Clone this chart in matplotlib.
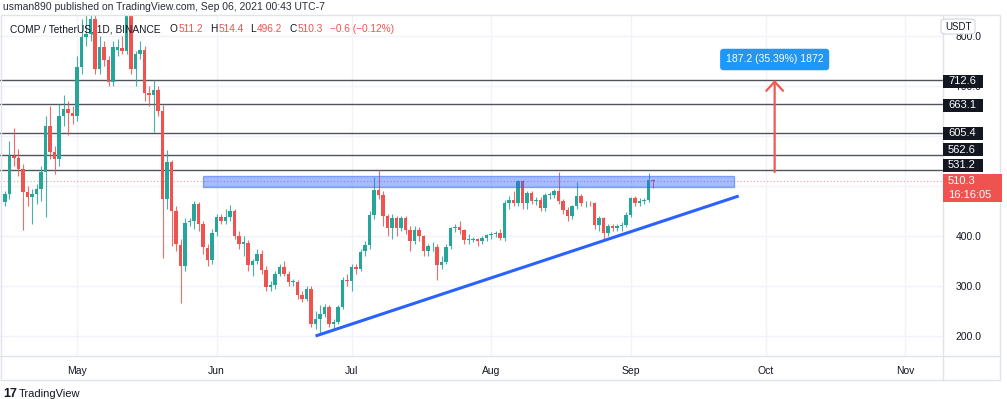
import numpy as np
import pandas as pd
import matplotlib
matplotlib.use("Agg")
import matplotlib.pyplot as plt
import matplotlib.dates as mdates
import matplotlib.transforms as mtransforms
from matplotlib.patches import Rectangle, FancyBboxPatch
from matplotlib.lines import Line2D

plt.rcParams['font.family'] = ['Liberation Sans', 'DejaVu Sans']

# daily COMP / USDT candles, Apr 15 -> Sep 06 2021
first_day = "2021-04-15"
opens = [467, 483, 560, 556, 533, 487, 477, 483, 493, 527,
         620, 567, 553, 640, 655, 647, 641, 738, 799, 805,
         835, 735, 779, 752, 709, 772, 776, 770, 842, 735,
         765, 772, 687, 683, 692, 650, 473, 547, 450, 383,
         340, 427, 430, 463, 423, 377, 353, 407, 437, 430,
         437, 450, 400, 383, 387, 343, 350, 365, 332, 299,
         302, 325, 339, 325, 309, 309, 282, 275, 295, 225,
         235, 245, 259, 225, 229, 259, 312, 310, 339, 335,
         369, 382, 442, 492, 482, 439, 415, 435, 415, 435,
         412, 389, 412, 399, 369, 379, 379, 342, 349, 379,
         415, 418, 412, 392, 392, 393, 389, 395, 402, 403,
         405, 395, 465, 472, 465, 509, 465, 485, 470, 472,
         455, 482, 482, 489, 469, 452, 439, 459, 479, 465,
         466, 465, 422, 435, 405, 419, 416, 419, 422, 442,
         475, 465, 469, 472, 511.2]
highs = [490, 590, 617, 575, 545, 500, 495, 505, 540, 640,
         660, 580, 665, 683, 670, 660, 760, 835, 850, 860,
         860, 800, 790, 760, 790, 795, 800, 875, 872, 770,
         790, 780, 700, 712, 700, 662, 573, 552, 460, 395,
         437, 437, 470, 468, 430, 385, 415, 445, 445, 455,
         463, 455, 410, 400, 392, 355, 375, 372, 340, 310,
         330, 345, 350, 330, 315, 312, 290, 300, 300, 250,
         262, 265, 262, 235, 262, 318, 325, 345, 345, 375,
         390, 450, 519, 532, 490, 445, 445, 440, 440, 440,
         420, 420, 418, 402, 385, 388, 385, 360, 385, 418,
         425, 430, 415, 405, 398, 397, 400, 405, 408, 410,
         415, 472, 480, 490, 512, 513, 490, 490, 478, 478,
         486, 488, 495, 529, 475, 458, 462, 509, 485, 470,
         470, 468, 440, 438, 425, 425, 425, 428, 448, 478,
         480, 476, 476, 526, 514.4]
lows = [460, 475, 540, 520, 412, 460, 425, 465, 470, 438,
        555, 525, 540, 620, 603, 625, 630, 725, 780, 790,
        725, 725, 740, 700, 700, 760, 765, 765, 725, 700,
        755, 670, 660, 608, 640, 357, 455, 380, 370, 267,
        330, 420, 415, 410, 365, 340, 345, 400, 425, 425,
        430, 395, 375, 360, 330, 320, 345, 325, 290, 290,
        295, 320, 320, 300, 300, 275, 268, 270, 218, 215,
        205, 238, 218, 215, 225, 255, 300, 290, 325, 330,
        360, 375, 435, 475, 420, 400, 395, 400, 410, 405,
        370, 385, 390, 360, 360, 370, 312, 335, 345, 375,
        408, 405, 385, 385, 388, 380, 385, 390, 395, 398,
        392, 390, 455, 460, 460, 455, 455, 465, 462, 450,
        450, 475, 476, 465, 445, 430, 435, 455, 460, 458,
        460, 415, 410, 395, 400, 410, 410, 410, 418, 438,
        460, 460, 465, 468, 496.2]
closes = [483, 560, 556, 533, 487, 477, 483, 493, 527, 620,
          567, 553, 640, 655, 647, 641, 738, 799, 805, 835,
          735, 779, 752, 709, 779, 779, 770, 842, 735, 765,
          772, 687, 683, 692, 650, 473, 547, 450, 383, 340,
          427, 430, 463, 423, 377, 353, 407, 437, 430, 437,
          450, 400, 383, 387, 343, 350, 365, 332, 299, 302,
          325, 339, 325, 309, 309, 282, 275, 295, 225, 235,
          245, 259, 225, 229, 259, 312, 310, 339, 335, 369,
          382, 442, 492, 482, 439, 415, 435, 415, 435, 412,
          389, 412, 399, 369, 379, 379, 342, 349, 379, 415,
          418, 412, 392, 392, 393, 389, 395, 402, 403, 405,
          395, 465, 472, 465, 509, 465, 485, 470, 472, 455,
          482, 482, 489, 469, 452, 439, 459, 479, 465, 466,
          465, 422, 435, 405, 419, 416, 419, 422, 442, 475,
          465, 469, 472, 511.2, 510.3]

# drawings on the chart
levels = [712.6, 663.1, 605.4, 562.6, 531.2]
level_tag_at = [709, 661, 605, 572, 541]
zone_dates = ["2021-05-29", "2021-09-24"]
zone_prices = [498, 520]
trend_dates = ["2021-06-23", "2021-09-25"]
trend_prices = [200, 480]
arrow_date = "2021-10-03"
arrow_prices = [528, 712]
target_at = 753
target_text = "187.2 (35.39%) 1872"
last_price = 510.3
countdown = "16:16:05"
price_ticks = [200, 300, 400, 500, 600, 700, 800]
hidden_ticks = [500, 600]  # covered by the price tags in the original

W, H = 1007, 399
UP, DOWN = "#26a69a", "#ef5350"
TXT = "#131722"
BORDER = "#e0e3eb"


def fx(px):
    return px / W


def fy(py):
    return 1 - py / H


dates = pd.date_range(first_day, periods=len(closes), freq="D")
x = mdates.date2num(dates)
o, h, l, c = map(np.array, (opens, highs, lows, closes))
colors = np.where(c >= o, UP, DOWN)

fig = plt.figure(figsize=(W / 100, H / 100), dpi=100)
ax = fig.add_axes([0, fy(356), fx(943), fy(15) - fy(356)])

# candles
ax.vlines(x, l, h, colors=colors, lw=0.8, alpha=0.85, zorder=3)
ax.bar(x, np.maximum(np.abs(c - o), 1.5), bottom=np.minimum(o, c), width=0.8,
       color=colors, linewidth=0, zorder=4)

for lv in levels:
    ax.axhline(lv, color="#50535e", lw=1.0, zorder=2)
ax.axhline(last_price, color=DOWN, lw=0.8, ls=(0, (1, 2)), alpha=0.6, zorder=2)

zd = mdates.date2num(pd.to_datetime(zone_dates))
ax.add_patch(Rectangle((zd[0], zone_prices[0]), zd[1] - zd[0], zone_prices[1] - zone_prices[0],
                       fc=(0.16, 0.38, 1.0, 0.42), ec=(0.16, 0.38, 1.0, 0.5), lw=1, zorder=5))

td = mdates.date2num(pd.to_datetime(trend_dates))
ax.plot(td, trend_prices, color="#2962ff", lw=2.2, solid_capstyle="butt", zorder=6)

ad = mdates.date2num(pd.Timestamp(arrow_date))
ax.annotate("", xy=(ad, arrow_prices[1]), xytext=(ad, arrow_prices[0]),
            arrowprops=dict(arrowstyle="->,head_length=0.55,head_width=0.5", color="#f05a50",
                            lw=1.6, shrinkA=0, shrinkB=0, mutation_scale=12), zorder=6)
ax.text(ad, target_at, target_text, ha="center", va="center", color="white", fontsize=7.5,
        zorder=7, bbox=dict(boxstyle="round,pad=0.55,rounding_size=0.3", fc="#2196f3", ec="none"))

ax.set_xlim(x[0] - 1.11, x[0] + 208.4)
ax.set_ylim(160, 842)

ax.xaxis.set_major_locator(mdates.MonthLocator())
ax.xaxis.set_major_formatter(mdates.DateFormatter("%b"))
ax.yaxis.tick_right()
ax.set_yticks(price_ticks)
ax.set_yticklabels(["" if v in hidden_ticks else f"{v:.1f}" for v in price_ticks])
ax.tick_params(axis="y", length=0, pad=9, labelsize=7.5, labelcolor=TXT)
ax.tick_params(axis="x", length=0, pad=7, labelsize=7.5, labelcolor=TXT)
ax.grid(True, color="#f0f3fa", lw=1, zorder=0)
for s in ax.spines.values():
    s.set_visible(False)

# pane frame
fig.add_artist(Rectangle((fx(0.5), fy(380)), fx(999.5), fy(15) - fy(380), transform=fig.transFigure,
                         fill=False, ec=BORDER, lw=1))
fig.add_artist(Line2D([fx(943), fx(943)], [fy(15), fy(380)], color=BORDER, lw=1))
fig.add_artist(Line2D([fx(0), fx(1000)], [fy(356), fy(356)], color=BORDER, lw=1))

# price tags on the right scale
ident = mtransforms.IdentityTransform()
x_edge = ax.bbox.x1


def tag(price, text, fc, width=40, height=13):
    yd = ax.transData.transform((x[0], price))[1]
    fig.add_artist(Rectangle((x_edge, yd - height / 2), width, height, transform=ident,
                             fc=fc, ec="none", zorder=10))
    fig.text((x_edge + 5) / W, yd / H, text, color="white", fontsize=8,
             va="center", ha="left", zorder=11)


for lv, at in zip(levels, level_tag_at):
    tag(at, f"{lv:.1f}", TXT)

yd = ax.transData.transform((x[0], last_price))[1]
fig.add_artist(Rectangle((x_edge, yd - 21), 59, 28, transform=ident, fc=DOWN, ec="none", zorder=10))
fig.text((x_edge + 5) / W, yd / H, f"{last_price:.1f}", color="white", fontsize=8,
         va="center", zorder=11)
fig.text((x_edge + 5) / W, (yd - 14) / H, countdown, color="white", fontsize=8,
         va="center", zorder=11)

fig.add_artist(FancyBboxPatch((fx(941), fy(34)), fx(34), fy(19) - fy(34), transform=fig.transFigure,
                              boxstyle="round,pad=0,rounding_size=0.006", fc="white", ec="#d1d4dc",
                              lw=0.8, zorder=10))
fig.text(fx(958), fy(26.5), "USDT", ha="center", va="center", fontsize=7, color=TXT, zorder=11)

# header texts
fig.text(fx(3), fy(7), "usman890 published on TradingView.com, Sep 06, 2021 00:43 UTC-7",
         fontsize=7.45, color="#2a2e39", va="center")

renderer = fig.canvas.get_renderer()
pieces = [("COMP / TetherUS, 1D, BINANCE", TXT, 0), ("O", TXT, 9), ("511.2", DOWN, 1),
          ("H", TXT, 7), ("514.4", DOWN, 1), ("L", TXT, 7), ("496.2", DOWN, 1),
          ("C", TXT, 7), ("510.3", DOWN, 1), ("\u22120.6 (\u22120.12%)", DOWN, 7)]
cur = 10
for txt, col, gap in pieces:
    cur += gap
    t = fig.text(fx(cur), fy(29), txt, color=col, fontsize=7.3, va="center", zorder=12)
    cur = t.get_window_extent(renderer).x1

fig.text(fx(3), fy(394), "17", fontsize=9, fontweight="bold", color=TXT, va="center")
fig.text(fx(19), fy(394), "TradingView", fontsize=8, color=TXT, va="center")

fig.savefig("out.png", dpi=100, facecolor="white")
